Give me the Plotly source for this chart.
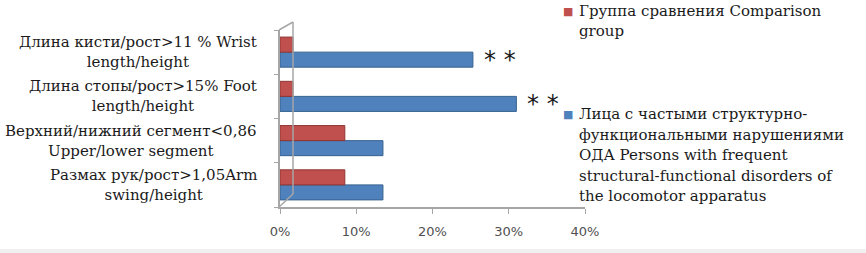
import plotly.graph_objects as go

# ---- data ----
categories = [
    "Размах рук/рост>1,05Arm<br>swing/height",
    "Верхний/нижний сегмент<0,86<br>Upper/lower segment",
    "Длина стопы/рост>15% Foot<br>length/height",
    "Длина кисти/рост>11 % Wrist<br>length/height",
]
persons_values = [13.5, 13.5, 31.0, 25.3]      # blue series, %
comparison_values = [8.5, 8.5, 1.7, 1.7]        # red series, %
significance = ["", "", "* *", "* *"]
series_names = [
    "Группа сравнения Comparison<br>group",
    "Лица с частыми структурно-<br>функциональными нарушениями<br>ОДА Persons with frequent<br>structural-functional disorders of<br>the locomotor apparatus",
]
x_ticks = [0, 10, 20, 30, 40]
x_tick_labels = ["0%", "10%", "20%", "30%", "40%"]

# ---- layout geometry (pixels) ----
W, H = 866, 253
L, R = 280, 589      # plot area x
T, B = 25, 207       # plot area y
PW, PH = R - L, B - T
DX, DY = 4, 5        # pseudo-3D shift of bars
LEG_LINE = 20.5      # legend line spacing

def px_x(p):
    return (p - L) / PW

def px_y(p):
    return (B - p) / PH

SERIF = "DejaVu Serif"
RED, RED_DARK = "#C0504D", "#8E3532"
BLUE, BLUE_DARK = "#4F81BD", "#36628F"
GRAY = "#A6A6A6"
TEXT = "#1a1a1a"
idx = list(range(len(categories)))

fig = go.Figure()
fig.add_trace(go.Bar(
    y=idx, x=persons_values, orientation="h", name=series_names[1],
    marker=dict(color=BLUE, line=dict(color=BLUE_DARK, width=1)),
    xaxis="x2", yaxis="y2", showlegend=False,
))
fig.add_trace(go.Bar(
    y=idx, x=comparison_values, orientation="h", name=series_names[0],
    marker=dict(color=RED, line=dict(color=RED_DARK, width=1)),
    xaxis="x2", yaxis="y2", showlegend=False,
))

annotations = []
for i, c in enumerate(categories):
    annotations.append(dict(
        x=px_x(259), xref="paper", y=i, yref="y", text=c, showarrow=False,
        xanchor="right", yanchor="middle", align="center",
        font=dict(family=SERIF, size=15, color=TEXT),
    ))
for i, s in enumerate(significance):
    if s:
        annotations.append(dict(
            x=persons_values[i], xref="x2", y=i, yref="y2", text=s,
            showarrow=False, xanchor="left", yanchor="middle",
            xshift=9, yshift=-8,
            font=dict(family="DejaVu Sans", size=24, color=TEXT),
        ))
legend_items = [(series_names[0], RED, 11), (series_names[1], BLUE, 114)]
for name, col, ymid in legend_items:
    annotations.append(dict(
        x=px_x(568), xref="paper", y=px_y(ymid), yref="paper", text="■",
        showarrow=False, xanchor="center", yanchor="middle",
        font=dict(family="DejaVu Sans", size=11, color=col),
    ))
    for k, line in enumerate(name.split("<br>")):
        annotations.append(dict(
            x=px_x(577), xref="paper", y=px_y(ymid + k * LEG_LINE),
            yref="paper", text=line, showarrow=False,
            xanchor="left", yanchor="middle", align="left",
            font=dict(family=SERIF, size=15, color=TEXT),
        ))

shapes = [
    dict(type="line", xref="paper", yref="paper", x0=px_x(293), x1=px_x(293),
         y0=px_y(22), y1=px_y(194), line=dict(color=GRAY, width=1.5)),
    dict(type="line", xref="paper", yref="paper", x0=px_x(279), x1=px_x(293),
         y0=px_y(30), y1=px_y(22), line=dict(color=GRAY, width=1.5)),
    dict(type="line", xref="paper", yref="paper", x0=px_x(279), x1=px_x(293),
         y0=px_y(207), y1=px_y(194), line=dict(color=GRAY, width=1.5)),
    dict(type="rect", xref="paper", yref="paper", x0=px_x(0), x1=px_x(W),
         y0=px_y(H), y1=px_y(249), fillcolor="#F0F0F0", line=dict(width=0),
         layer="below"),
]

fig.update_layout(
    width=W, height=H,
    margin=dict(l=L, r=W - R, t=T, b=H - B, pad=0, autoexpand=False),
    paper_bgcolor="white", plot_bgcolor="rgba(0,0,0,0)",
    barmode="group", bargap=0.32, bargroupgap=0,
    showlegend=False,
    xaxis=dict(domain=[0, (PW - DX) / PW], range=[0, 40], tickvals=x_ticks,
               ticktext=x_tick_labels, showgrid=False, zeroline=False,
               showline=True, linecolor=GRAY, linewidth=1.5,
               ticks="outside", ticklen=5, tickcolor=GRAY, automargin=False,
               ticklabelstandoff=7,
               tickfont=dict(family="DejaVu Sans", size=13, color="#505050"),
               anchor="y", fixedrange=True),
    yaxis=dict(domain=[0, (PH - DY) / PH], type="category",
               range=[-0.5, 3.5], tickvals=idx, ticktext=[""] * 4,
               tickson="boundaries", showgrid=False, zeroline=False,
               showline=True, linecolor=GRAY, linewidth=1.5, automargin=False,
               ticks="outside", ticklen=4, tickcolor=GRAY,
               anchor="x", fixedrange=True),
    xaxis2=dict(domain=[DX / PW, 1], range=[0, 40], overlaying="x",
                anchor="y2", visible=False, fixedrange=True),
    yaxis2=dict(domain=[DY / PH, 1], range=[-0.5, 3.5], overlaying="y",
                anchor="x2", visible=False, fixedrange=True),
    annotations=annotations,
    shapes=shapes,
)

fig.write_html("out.html", post_script="document.body.style.margin='0';",
               config={"displayModeBar": False})
